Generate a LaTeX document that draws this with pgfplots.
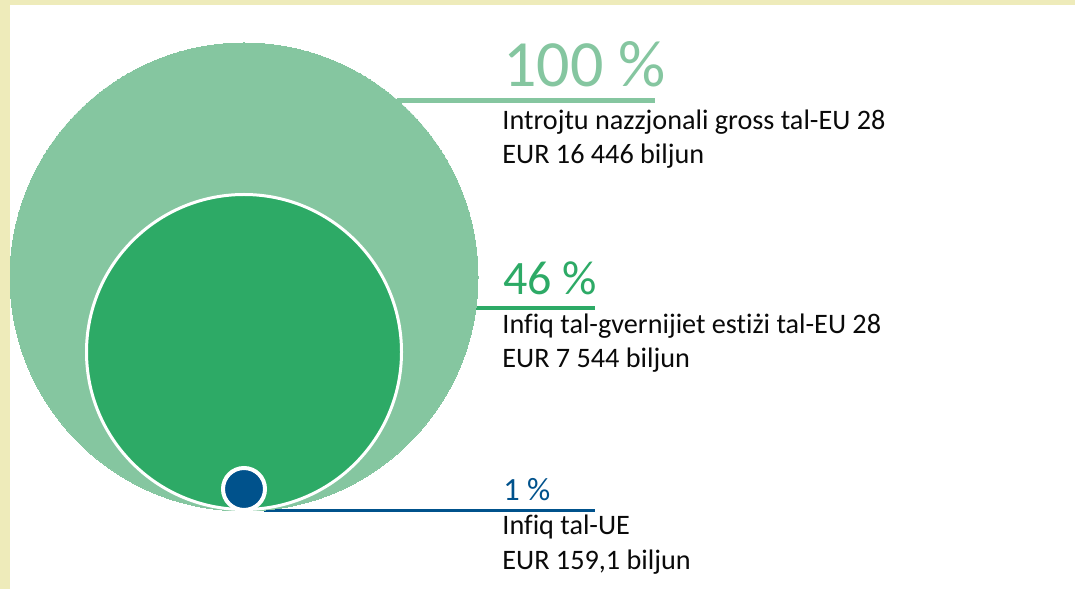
\documentclass[border=0pt]{standalone}
\usepackage{pgfplots}
\pgfplotsset{compat=1.18}
\usepackage{fontspec}
\setmainfont[Ligatures=NoCommon]{Carlito}
\definecolor{lgreen}{HTML}{85C6A0}
\definecolor{mgreen}{HTML}{2DAA66}
\definecolor{dblue}{HTML}{00528C}
\definecolor{bord}{HTML}{EEEBBA}
\definecolor{txt}{HTML}{0A0A0A}
\begin{document}
\begin{tikzpicture}
\begin{axis}[
  x=0.5pt, y=0.5pt,
  xmin=0, xmax=1075, ymin=0, ymax=589,
  hide axis, clip=false,
]
\fill[white] (axis cs:0,0) rectangle (axis cs:1075,589);
\fill[bord] (axis cs:0,584) rectangle (axis cs:1075,589);
\fill[bord] (axis cs:0,0) rectangle (axis cs:10,589);
% circles (centre x, centre y, size as measured)
\addplot[lgreen, only marks, mark=*, mark size=117pt, mark options={fill=lgreen, draw=lgreen, line width=0pt}] coordinates {(244,312)};
\addplot[white, only marks, mark=*, mark size=78.75pt, mark options={fill=mgreen, draw=white, line width=1.5pt}] coordinates {(244,237)};
\addplot[white, only marks, mark=*, mark size=10.5pt, mark options={fill=dblue, draw=white, line width=2pt}] coordinates {(244,100)};
% leader lines
\addplot[lgreen, line width=2.75pt] coordinates {(397,488.5) (655,488.5)};
\addplot[mgreen, line width=2pt] coordinates {(395,281) (595,281)};
\addplot[dblue, line width=1.35pt] coordinates {(264,78.3) (595,78.3)};
% texts
\node[anchor=base west, inner sep=0, text=lgreen, font=\fontsize{33}{39}\selectfont] at (axis cs:503,502.3) {100 \%};
\node[anchor=base west, inner sep=0, text=txt, font=\fontsize{14.1}{17}\selectfont] at (axis cs:502,459) {Introjtu nazzjonali gross tal-EU 28};
\node[anchor=base west, inner sep=0, text=txt, font=\fontsize{14.1}{17}\selectfont] at (axis cs:502,425) {EUR 16 446 biljun};
\node[anchor=base west, inner sep=0, text=mgreen, font=\fontsize{24}{28}\selectfont] at (axis cs:503,294) {46 \%};
\node[anchor=base west, inner sep=0, text=txt, font=\fontsize{14.1}{17}\selectfont] at (axis cs:502,255.7) {Infiq tal-gvernijiet estiżi tal-EU 28};
\node[anchor=base west, inner sep=0, text=txt, font=\fontsize{14.1}{17}\selectfont] at (axis cs:502,221.3) {EUR 7 544 biljun};
\node[anchor=base west, inner sep=0, text=dblue, font=\fontsize{16.2}{19}\selectfont] at (axis cs:503,89) {1 \%};
\node[anchor=base west, inner sep=0, text=txt, font=\fontsize{14.1}{17}\selectfont] at (axis cs:502,55) {Infiq tal-UE};
\node[anchor=base west, inner sep=0, text=txt, font=\fontsize{14.1}{17}\selectfont] at (axis cs:502,20) {EUR 159,1 biljun};
\end{axis}
\end{tikzpicture}
\end{document}
